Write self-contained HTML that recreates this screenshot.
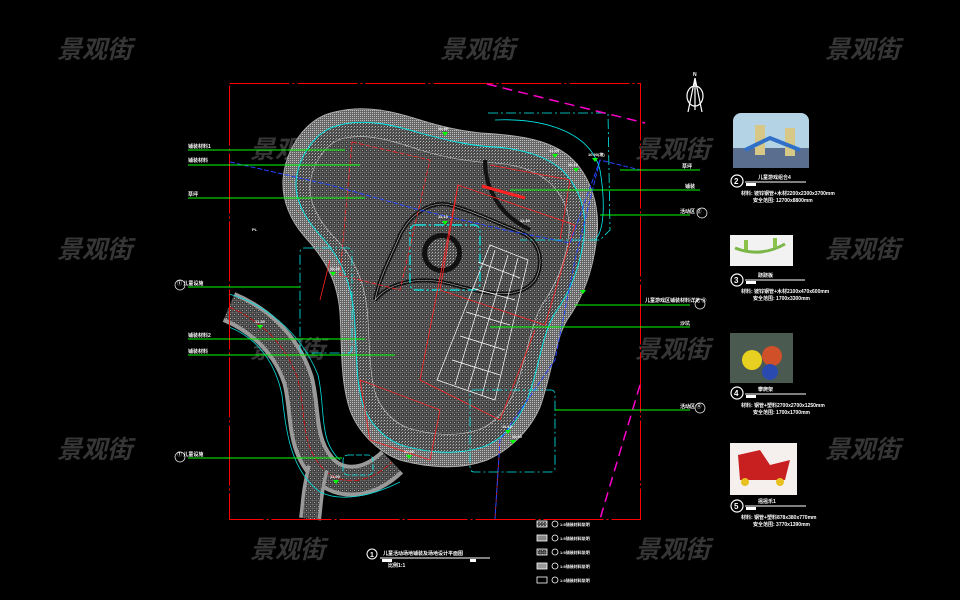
<!DOCTYPE html>
<html><head><meta charset="utf-8"><style>
html,body{margin:0;padding:0;background:#000;width:960px;height:600px;overflow:hidden}
svg{display:block}
.wm{font-family:"Liberation Sans","Noto Sans CJK SC",sans-serif;font-size:25px;font-style:italic;font-weight:bold;fill:#363636}
.t{font-family:"Liberation Sans","Noto Sans CJK SC",sans-serif;font-size:5px;fill:#fff;font-weight:bold}
</style></head><body>
<svg width="960" height="600" viewBox="0 0 960 600" xmlns="http://www.w3.org/2000/svg">
<defs>
<pattern id="dots" width="3" height="3" patternUnits="userSpaceOnUse">
<rect width="3" height="3" fill="#4a4a4a"/><rect width="1" height="1" fill="#bbb"/><rect x="2" y="1" width="1" height="1" fill="#888"/>
</pattern>
<pattern id="grid" width="4" height="4" patternUnits="userSpaceOnUse">
<rect width="4" height="4" fill="#3e3e3e"/><path d="M0 0H4M0 0V4" stroke="#8a8a8a" stroke-width="0.7"/><rect x="2" y="2" width="1" height="1" fill="#aaa"/>
</pattern>
<pattern id="band" width="2" height="2" patternUnits="userSpaceOnUse">
<rect width="2" height="2" fill="#666"/><rect width="1" height="1" fill="#c0c0c0"/>
</pattern>
</defs>

<g class="wm">
<text x="57" y="58">景观街</text><text x="440" y="58">景观街</text><text x="825" y="58">景观街</text>
<text x="250" y="158">景观街</text><text x="635" y="158">景观街</text>
<text x="57" y="258">景观街</text><text x="825" y="258">景观街</text>
<text x="250" y="358">景观街</text><text x="635" y="358">景观街</text>
<text x="57" y="458">景观街</text><text x="825" y="458">景观街</text>
<text x="250" y="558">景观街</text><text x="635" y="558">景观街</text>
</g>

<path d="M229,307 C255,318 285,340 298,380 C306,410 300,440 320,465 C335,485 365,488 392,462" fill="none" stroke="#999" stroke-width="32"/>
<path d="M229,307 C255,318 285,340 298,380 C306,410 300,440 320,465 C335,485 365,488 392,462" fill="none" stroke="url(#grid)" stroke-width="24"/>
<path d="M229,307 C255,318 285,340 298,380 C306,410 300,440 320,465 C335,485 365,488 392,462" fill="none" stroke="#e00" stroke-width="0.7" stroke-dasharray="6 2"/>
<path d="M318,468 C312,490 312,505 310,519" fill="none" stroke="#999" stroke-width="22"/>
<path d="M318,468 C312,490 312,505 310,519" fill="none" stroke="url(#grid)" stroke-width="15"/>
<path d="M229,294 C262,303 300,330 318,375 C326,410 318,440 340,460" fill="none" stroke="#0dd" stroke-width="0.8"/>
<path d="M229,327 C255,337 275,360 282,395 C286,430 290,470 320,492 C340,502 370,497 400,482" fill="none" stroke="#0dd" stroke-width="0.8"/>

<path d="M283,180 C285,150 305,118 335,112 C365,104 395,112 420,120 C445,128 470,133 495,134 C520,136 550,140 570,157 C590,175 600,205 597,235 C594,265 585,295 567,320 C555,340 550,380 540,407 C530,430 510,450 487,460 C460,470 430,468 400,460 C378,452 358,432 350,410 C340,380 342,345 340,313 C338,285 328,262 305,237 C290,220 282,200 283,180 Z" fill="url(#band)" stroke="#aaa" stroke-width="1"/>
<path d="M296,182 C298,158 315,130 340,125 C368,118 396,126 420,133 C446,140 470,146 495,147 C520,149 545,155 562,170 C580,188 587,212 584,236 C581,262 572,290 555,313 C541,336 538,374 527,400 C518,422 502,440 483,447 C458,455 430,453 404,446 C385,440 370,424 363,405 C355,378 357,345 354,313 C351,284 342,258 319,234 C305,218 295,200 296,182 Z" fill="url(#dots)" stroke="#0ee" stroke-width="0.9"/>
<path d="M310,185 C312,165 325,142 345,138 C370,133 396,142 420,150 C446,158 470,162 495,163 C520,165 540,172 553,186 C566,200 572,220 568,240 C565,262 556,285 542,305 C530,325 525,365 515,390 C507,410 493,425 478,430 C456,437 430,435 408,428 C392,422 380,408 375,392 C368,365 370,335 367,308 C364,282 355,258 333,236 C318,220 309,202 310,185 Z" fill="url(#grid)" stroke="#ccc" stroke-width="0.6"/>
<path d="M375,300 C390,282 420,275 455,285 C490,295 520,300 535,280 C545,262 540,240 520,232 C495,222 470,210 450,205 C430,200 410,215 400,235 C392,255 380,275 375,300" fill="none" stroke="#111" stroke-width="4"/>
<path d="M375,300 C390,282 420,275 455,285 C490,295 520,300 535,280 C545,262 540,240 520,232 C495,222 470,210 450,205 C430,200 410,215 400,235 C392,255 380,275 375,300" fill="none" stroke="#bbb" stroke-width="0.6"/>
<path d="M485,160 C485,190 500,215 530,230" fill="none" stroke="#111" stroke-width="4"/>
<rect x="410" y="225" width="70" height="65" rx="6" fill="none" stroke="#0ee" stroke-width="1.2" stroke-dasharray="10 3 2 3"/>
<circle cx="442" cy="253" r="20" fill="#111"/><circle cx="442" cy="253" r="15" fill="url(#dots)"/>
<g stroke="#fff" stroke-width="0.7" fill="none">
<polygon points="490,245 528,260 495,400 437,380"/>
<path d="M478,262 L520,278 M472,288 L515,300 M466,312 L510,325 M460,336 L505,350 M452,360 L500,375 M495,250 L455,385 M508,255 L468,390 M518,258 L482,395"/>
</g>
<g stroke="#f22" stroke-width="0.8" fill="none">
<polygon points="352,142 430,160 400,290 340,275" stroke-dasharray="5 2"/>
<polygon points="458,185 575,225 545,325 440,290"/>
<polygon points="360,380 440,410 430,460 370,440"/>
<path d="M458,185 L420,380 L500,420 L535,330"/>
<path d="M490,165 L570,180 L560,240 M330,260 L320,300 M500,440 L495,519"/>
</g>
<path d="M482,186 L525,198" stroke="#f22" stroke-width="3"/>
<path d="M230,162 L330,185 L420,210 L505,230 L570,243 L600,160 L640,170" fill="none" stroke="#24f" stroke-width="1" stroke-dasharray="5 2"/>
<path d="M600,160 L575,260 L555,360 L500,440 L495,519" fill="none" stroke="#24f" stroke-width="1" stroke-dasharray="5 2"/>
<g fill="none" stroke="#0ee" stroke-width="0.8">
<path d="M488,113 L608,113 L610,230 L600,240 L520,240" stroke-dasharray="10 3 2 3"/>
<path d="M495,120 C540,118 590,130 600,170 C605,200 605,230 595,240"/>
<rect x="300" y="248" width="52" height="105" rx="4" stroke-dasharray="10 3 2 3"/>
<rect x="470" y="390" width="85" height="82" rx="4" stroke-dasharray="10 3 2 3"/>
<rect x="343" y="455" width="30" height="20" rx="5" stroke-dasharray="6 2"/>
</g>
<g fill="#0f0">
<polygon points="442,132 448,132 445,136"/><polygon points="552,154 558,154 555,158"/><polygon points="573,168 579,168 576,172"/><polygon points="592,158 598,158 595,162"/><polygon points="442,221 448,221 445,225"/><polygon points="330,272 336,272 333,276"/><polygon points="257,325 263,325 260,329"/><polygon points="333,480 339,480 336,484"/><polygon points="406,455 412,455 409,459"/><polygon points="505,430 511,430 508,434"/><polygon points="510,440 516,440 513,444"/><polygon points="580,290 586,290 583,294"/>
</g>
<g class="t" style="font-size:4px">
<text x="438" y="130">11.30</text><text x="549" y="152">11.25</text><text x="568" y="166">11.10</text><text x="588" y="156">10.90(坡)</text><text x="438" y="218">11.15</text><text x="330" y="270">11.20</text><text x="255" y="323">11.20</text><text x="330" y="478">11.00</text><text x="404" y="453">11.00</text><text x="502" y="428">11.10</text><text x="512" y="438">11.00</text><text x="520" y="222">11.30</text><text x="252" y="231">PL</text>
</g>

<rect x="229.5" y="83.5" width="411" height="436" fill="none" stroke="#f00" stroke-width="1" stroke-dasharray="60 3 2 3"/>
<path d="M487,84 L645,123" stroke="#f0c" stroke-width="1.5" stroke-dasharray="10 6"/>
<path d="M640,385 L600,519" stroke="#f0c" stroke-width="1.5" stroke-dasharray="10 6"/>

<g stroke="#0f0" stroke-width="1">
<path d="M188,150H345M188,165H360M188,198H365M188,287H300M188,339H365M188,355H395M188,458H342"/>
<path d="M620,170H700M510,190H700M600,215H690M575,305H690M490,327H690M555,410H690"/>
</g>
<g class="t">
<text x="188" y="148">铺装材料1</text><text x="188" y="162">铺装材料</text><text x="188" y="196">草坪</text>
<text x="177" y="285">① 儿童设施</text><text x="188" y="337">铺装材料2</text><text x="188" y="353">铺装材料</text><text x="177" y="456">① 儿童设施</text>
<text x="682" y="168">草坪</text><text x="685" y="188">铺装</text><text x="680" y="213">活动区 ②</text>
<text x="645" y="302">儿童游戏区铺装材料详见 ③</text><text x="680" y="325">沙坑</text><text x="680" y="408">活动区 ④</text>
</g>
<g fill="none" stroke="#fff" stroke-width="0.7"><circle cx="702" cy="213" r="5"/><circle cx="700" cy="304" r="5"/><circle cx="700" cy="408" r="5"/><circle cx="180" cy="285" r="5"/><circle cx="180" cy="457" r="5"/></g>

<g stroke="#fff" stroke-width="1.2" fill="none">
<ellipse cx="695" cy="96" rx="8" ry="10"/><path d="M695,78 L688,112 M695,78 L702,112 M695,80 L695,110"/>
</g>
<text class="t" x="693" y="76">N</text>

<rect x="733" y="113" width="76" height="55" rx="8" fill="#b4d4e6"/>
<rect x="733" y="148" width="76" height="20" fill="#5a6f90"/>
<rect x="755" y="125" width="10" height="30" fill="#d8c888"/><rect x="785" y="128" width="10" height="28" fill="#d8c888"/>
<path d="M745,150 L770,138 L800,150" stroke="#3070c8" stroke-width="4" fill="none"/>
<rect x="730" y="235" width="63" height="31" fill="#f2f2f2"/>
<path d="M735,248 Q760,258 785,244" stroke="#7ab648" stroke-width="3" fill="none"/>
<rect x="744" y="240" width="4" height="10" fill="#8bc34a"/><rect x="773" y="238" width="4" height="10" fill="#8bc34a"/>
<rect x="730" y="333" width="63" height="50" fill="#4a5a50"/>
<circle cx="752" cy="360" r="10" fill="#e8d020"/><circle cx="772" cy="356" r="10" fill="#d0502a"/><circle cx="770" cy="372" r="8" fill="#2a4ab0"/>
<rect x="730" y="443" width="67" height="52" fill="#f5f0ee"/>
<path d="M738,455 L760,450 L770,465 L790,460 L785,480 L740,480 Z" fill="#c82020"/>
<circle cx="745" cy="482" r="4" fill="#e8c020"/><circle cx="780" cy="482" r="4" fill="#e8c020"/>

<g fill="none" stroke="#fff" stroke-width="1.2">
<circle cx="737" cy="181" r="6"/><circle cx="737" cy="280" r="6"/><circle cx="737" cy="393" r="6"/><circle cx="737" cy="506" r="6"/>
</g>
<g class="t" style="font-size:8px"><text x="734" y="184">2</text><text x="734" y="283">3</text><text x="734" y="396">4</text><text x="734" y="509">5</text></g>
<g stroke="#fff" stroke-width="1"><path d="M745,182H806M745,280H805M745,394H806M745,506H806"/></g>
<g fill="#fff"><rect x="746" y="183" width="10" height="3"/><rect x="746" y="281" width="10" height="3"/><rect x="746" y="395" width="10" height="3"/><rect x="746" y="507" width="10" height="3"/></g>
<g class="t">
<text x="758" y="179">儿童游戏组合4</text><text x="741" y="195">材料: 镀锌钢管+木材2200x2300x3700mm</text><text x="753" y="202">安全范围: 12700x8800mm</text>
<text x="758" y="277">跷跷板</text><text x="741" y="293">材料: 镀锌钢管+木材2100x470x600mm</text><text x="753" y="300">安全范围: 1700x3300mm</text>
<text x="758" y="391">攀爬架</text><text x="741" y="407">材料: 钢管+塑料2700x2700x1250mm</text><text x="753" y="414">安全范围: 1700x1700mm</text>
<text x="758" y="503">摇摇乐1</text><text x="741" y="519">材料: 钢管+塑料878x380x770mm</text><text x="753" y="526">安全范围: 3770x1390mm</text>
</g>

<g fill="none" stroke="#fff" stroke-width="0.8">
<rect x="537" y="521" width="10" height="6" fill="url(#dots)"/><rect x="537" y="535" width="10" height="6" fill="#888"/><rect x="537" y="549" width="10" height="6" fill="url(#grid)"/><rect x="537" y="563" width="10" height="6" fill="#999"/><rect x="537" y="577" width="10" height="6"/>
<circle cx="555" cy="524" r="3"/><circle cx="555" cy="538" r="3"/><circle cx="555" cy="552" r="3"/><circle cx="555" cy="566" r="3"/><circle cx="555" cy="580" r="3"/>
</g>
<g class="t" style="font-size:4px">
<text x="560" y="526">1:5铺装材料说明</text><text x="560" y="540">1:5铺装材料说明</text><text x="560" y="554">1:5铺装材料说明</text><text x="560" y="568">1:5铺装材料说明</text><text x="560" y="582">1:5铺装材料说明</text>
</g>

<circle cx="372" cy="554" r="5" fill="none" stroke="#fff" stroke-width="1"/>
<text class="t" x="370" y="557" style="font-size:7px">1</text>
<text class="t" x="383" y="555">儿童活动场地铺装及场地设计平面图</text>
<path d="M380,558H490" stroke="#fff" stroke-width="1"/>
<rect x="382" y="559" width="10" height="3" fill="#fff"/><rect x="470" y="559" width="6" height="3" fill="#fff"/>
<text class="t" x="388" y="567">比例1:1</text>
</svg>
</body></html>
